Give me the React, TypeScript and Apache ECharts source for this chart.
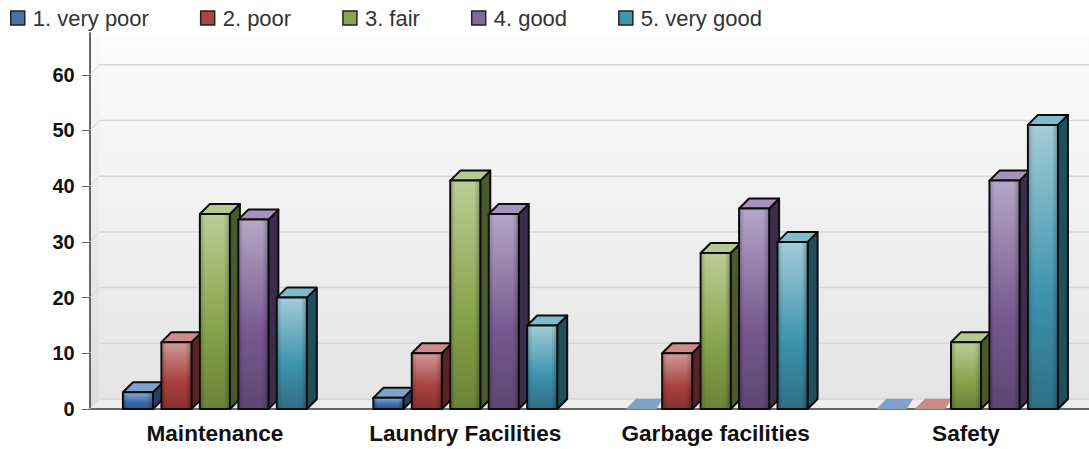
import React, { useEffect, useRef } from "react";
import * as echarts from "echarts";

const categories = ["Maintenance", "Laundry Facilities", "Garbage facilities", "Safety"];
const seriesNames = ["1. very poor", "2. poor", "3. fair", "4. good", "5. very good"];
const veryPoor = [3, 2, 0, 0];
const poor = [12, 10, 10, 0];
const fair = [35, 41, 28, 12];
const good = [34, 35, 36, 41];
const veryGood = [20, 15, 30, 51];
const yTicks = [0, 10, 20, 30, 40, 50, 60];

const seriesValues = [veryPoor, poor, fair, good, veryGood];
const palette = [
  { base: "#4572A7", light: "#8aa9d0", mid: "#3a6ca8", low: "#2f5a8c", top: "#7fa2cc", side: "#23405f" },
  { base: "#AA4643", light: "#d09a98", mid: "#a8403d", low: "#85312f", top: "#cc8a88", side: "#5a2220" },
  { base: "#89A54E", light: "#bccd96", mid: "#86a24a", low: "#6a8238", top: "#b5c98e", side: "#4a5a28" },
  { base: "#80699B", light: "#b5a6c8", mid: "#78588f", low: "#5c4672", top: "#a693bd", side: "#3c2d4c" },
  { base: "#3D96AE", light: "#a2ccd8", mid: "#3d93ad", low: "#2f6f85", top: "#7dbccd", side: "#1f4f5a" },
];

const DEPTH = 10;
const OUTLINE = "#0c0c0c";

function vGrad(stops: [number, string][]) {
  return new echarts.graphic.LinearGradient(0, 0, 0, 1, stops.map(([offset, color]) => ({ offset, color })));
}

function barRenderer(s: number) {
  return (params: any, api: any) => {
    const cat = api.value(0);
    const val = api.value(1);
    const band = api.size([1, 0])[0];
    const w = band * 0.12;
    const pitch = band * 0.1536;
    const [cx, y1] = api.coord([cat, val]);
    const [, y0] = api.coord([cat, 0]);
    const x0 = cx - w / 2 + (s - 2) * pitch;
    const x1 = x0 + w;
    const c = palette[s];
    if (val === 0) {
      return {
        type: "polygon",
        shape: { points: [[x0 + 2.5, y0], [x1 + 2.5, y0], [x1 + DEPTH - 1.5, y0 - DEPTH], [x0 + DEPTH + 2.5, y0 - DEPTH]] },
        style: { fill: c.top, stroke: "#999", lineWidth: 0.6 },
      };
    }
    const stroke = { stroke: OUTLINE, lineWidth: 2, lineJoin: "round" };
    return {
      type: "group",
      children: [
        {
          type: "polygon",
          shape: { points: [[x1, y0], [x1 + DEPTH, y0 - DEPTH], [x1 + DEPTH, y1 - DEPTH], [x1, y1]] },
          style: { fill: c.side, ...stroke },
        },
        {
          type: "polygon",
          shape: { points: [[x0, y1], [x1, y1], [x1 + DEPTH, y1 - DEPTH], [x0 + DEPTH, y1 - DEPTH]] },
          style: { fill: c.top, ...stroke },
        },
        {
          type: "rect",
          shape: { x: x0, y: y1, width: w, height: y0 - y1 },
          style: {
            fill: vGrad([[0, c.light], [0.6, c.mid], [1, c.low]]),
            ...stroke,
          },
        },
        {
          type: "rect",
          shape: { x: x0 + 1, y: y1 + 1, width: w - 2, height: y0 - y1 - 2 },
          style: {
            fill: new echarts.graphic.LinearGradient(0, 0, 1, 0, [
              { offset: 0, color: "rgba(0,0,0,0.18)" },
              { offset: 0.15, color: "rgba(0,0,0,0)" },
              { offset: 0.82, color: "rgba(0,0,0,0)" },
              { offset: 1, color: "rgba(0,0,0,0.22)" },
            ]),
          },
        },
      ],
    };
  };
}

function wallRenderer(params: any, api: any) {
  const [xl, y0] = api.coord([0, 0]);
  const size = api.size([1, 0])[0];
  const right = xl + size * 4;
  const left = xl - size / 2;
  const topY = api.coord([0, 67.5])[1];
  return {
    type: "group",
    children: [
      {
        type: "rect",
        shape: { x: left + DEPTH, y: topY, width: right - left, height: y0 - DEPTH - topY },
        style: { fill: vGrad([[0, "#fcfcfc"], [1, "#e4e4e4"]]) },
      },
      {
        type: "polygon",
        shape: { points: [[left, y0], [left + DEPTH, y0 - DEPTH], [left + DEPTH, topY], [left, topY]] },
        style: { fill: vGrad([[0, "#fafafa"], [1, "#dcdcdc"]]) },
      },
      {
        type: "polygon",
        shape: { points: [[left, y0], [left + DEPTH, y0 - DEPTH], [right + DEPTH, y0 - DEPTH], [right, y0]] },
        style: { fill: "#ededed" },
      },
    ],
  };
}

function gridRenderer(params: any, api: any) {
  const val = api.value(1);
  const size = api.size([1, 0])[0];
  const [xc, y] = api.coord([0, val]);
  const left = xc - size / 2;
  return {
    type: "group",
    children: [
      {
        type: "line",
        shape: { x1: left, y1: y, x2: left + DEPTH, y2: y - DEPTH },
        style: { stroke: "#d8d8d8", lineWidth: 1 },
      },
      {
        type: "line",
        shape: { x1: left + DEPTH, y1: y - DEPTH, x2: left + DEPTH + size * 4.2, y2: y - DEPTH },
        style: { stroke: "#d6d6d6", lineWidth: 1.5 },
      },
    ],
  };
}

export default function App() {
  const ref = useRef<HTMLDivElement>(null);
  useEffect(() => {
    const chart = echarts.init(ref.current!, undefined, { renderer: "svg" });
    chart.setOption({
      animation: false,
      backgroundColor: "#fff",
      textStyle: { fontFamily: "Liberation Sans" },
      legend: {
        data: seriesNames,
        left: 10,
        top: 7,
        icon: "rect",
        itemWidth: 14,
        itemHeight: 14,
        itemGap: 51,
        selectedMode: false,
        padding: 0,
        itemStyle: { borderColor: "#222", borderWidth: 1.5 },
        textStyle: { fontSize: 22, color: "#333", fontFamily: "Liberation Sans", padding: [0, 0, 0, 3] },
      },
      grid: { left: 89.7, top: 33, bottom: 40, width: 1001.5, containLabel: false, outerBoundsMode: "none" },
      xAxis: {
        type: "category",
        data: categories,
        axisLine: { lineStyle: { color: "#666", width: 2 } },
        axisTick: { alignWithLabel: true, length: 8, lineStyle: { color: "#666" } },
        axisLabel: { fontSize: 22.6, fontWeight: "bold", color: "#111", margin: 13, fontFamily: "Liberation Sans" },
      },
      yAxis: {
        type: "value",
        min: 0,
        max: 67.5,
        interval: 10,
        splitLine: { show: false },
        axisLine: { show: true, lineStyle: { color: "#666", width: 2 } },
        axisTick: { show: true, length: 8, customValues: yTicks, lineStyle: { color: "#666" } },
        axisLabel: { customValues: yTicks, fontSize: 20, fontWeight: "bold", color: "#111", margin: 15, fontFamily: "Liberation Sans" },
      },
      series: [
        { type: "custom", name: "wall", silent: true, z: 0, clip: false, renderItem: wallRenderer, data: [[0, 0]] },
        {
          type: "custom", name: "gridlines", silent: true, z: 1, clip: false, renderItem: gridRenderer,
          data: yTicks.map((t) => [0, t]),
        },
        ...seriesNames.map((name, s) => ({
          type: "custom",
          name,
          z: 3,
          clip: false,
          renderItem: barRenderer(s),
          itemStyle: { color: palette[s].base },
          encode: { x: 0, y: 1 },
          data: seriesValues[s].map((v, i) => [i, v]),
        })),
      ],
    });
    return () => chart.dispose();
  }, []);
  return <div ref={ref} style={{ position: "absolute", left: 0, top: 0, width: 1089, height: 449 }} />;
}
